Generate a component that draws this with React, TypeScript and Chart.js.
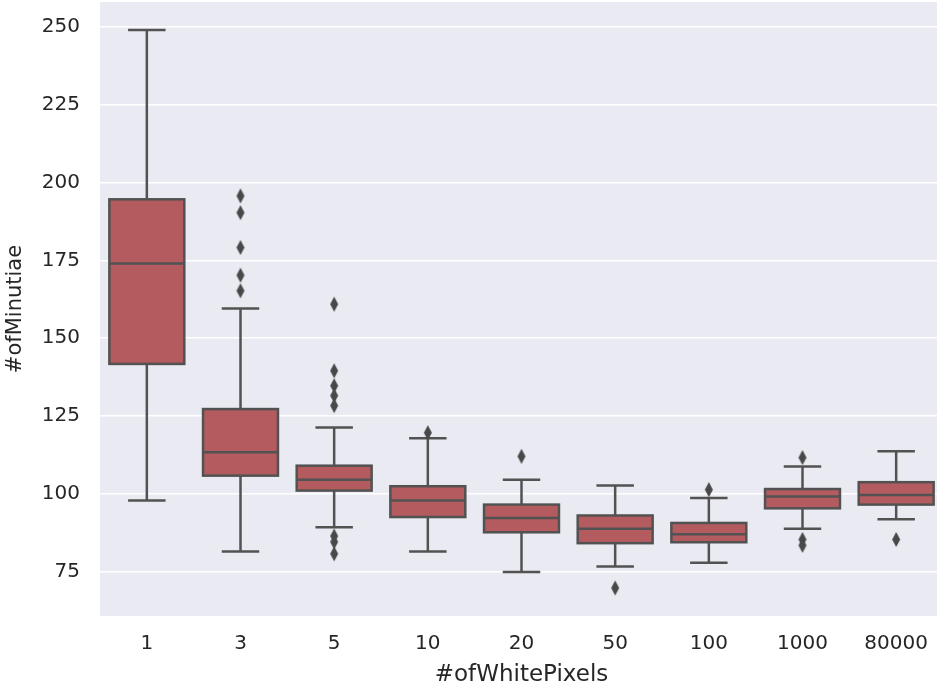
import { useEffect, useRef } from "react";
import { Chart, registerables } from "chart.js";

Chart.register(...registerables);

// Number of white pixels per group (x categories)
const categories = ["1", "3", "5", "10", "20", "50", "100", "1000", "80000"];

// Five-number summaries of #ofMinutiae for each group
const whiskerLow = [97.8, 81.4, 89.2, 81.4, 74.8, 76.6, 77.8, 88.7, 91.8];
const q1 = [141.7, 105.8, 101.0, 92.5, 87.6, 84.1, 84.4, 95.3, 96.5];
const medians = [174.0, 113.3, 104.5, 97.8, 92.2, 88.7, 87.0, 99.1, 99.6];
const q3 = [194.6, 127.2, 109.0, 102.4, 96.5, 93.0, 90.6, 101.5, 103.7];
const whiskerHigh = [249.0, 159.5, 121.3, 117.8, 104.5, 102.6, 98.6, 108.7, 113.6];

// Points beyond the whiskers: group and value
const outlierGroups = [
  "3", "3", "3", "3", "3",
  "5", "5", "5", "5", "5", "5", "5", "5",
  "10",
  "20",
  "50",
  "100",
  "1000", "1000", "1000",
  "80000",
];
const outlierValues = [
  195.7, 190.3, 179.1, 170.2, 165.2,
  160.9, 139.5, 134.7, 131.5, 128.3, 86.4, 84.5, 80.7,
  119.6,
  112.0,
  69.7,
  101.3,
  111.6, 85.3, 83.4,
  85.3,
];

const yTicks = [75, 100, 125, 150, 175, 200, 225, 250];
const yMin = 60.7;
const yMax = 258;

const BOX_FILL = "#b35b5f";
const LINE_GRAY = "#525252";
const FLIER_GRAY = "#484848";
const PANEL_BG = "#eaeaf2";
const TEXT = "#262626";
const FONT = "'DejaVu Sans', sans-serif";

// The panel runs a few pixels past the visible right edge
const VIEW_W = 937;
const CANVAS_W = 943;
const CANVAS_H = 689;

function makeDiamond(color: string): HTMLCanvasElement {
  const c = document.createElement("canvas");
  c.width = 10;
  c.height = 17;
  const g = c.getContext("2d")!;
  g.fillStyle = color;
  g.beginPath();
  g.moveTo(5, 1);
  g.lineTo(9, 8.5);
  g.lineTo(5, 16);
  g.lineTo(1, 8.5);
  g.closePath();
  g.fill();
  return c;
}

const panelBackground = {
  id: "panelBackground",
  beforeDraw(chart: any) {
    const { ctx, chartArea } = chart;
    ctx.save();
    ctx.fillStyle = PANEL_BG;
    ctx.fillRect(
      chartArea.left,
      chartArea.top,
      chartArea.right - chartArea.left,
      chartArea.bottom - chartArea.top
    );
    ctx.restore();
  },
};

// Whiskers, caps, box outline and median line drawn over each floating bar
const boxLines = {
  id: "boxLines",
  afterDatasetDraw(chart: any, args: any) {
    if (args.meta.type !== "bar") return;
    const { ctx } = chart;
    const y = chart.scales.y;
    ctx.save();
    ctx.strokeStyle = LINE_GRAY;
    ctx.lineWidth = 2.5;
    ctx.lineCap = "butt";
    const seg = (x0: number, y0: number, x1: number, y1: number) => {
      ctx.beginPath();
      ctx.moveTo(x0, y0);
      ctx.lineTo(x1, y1);
      ctx.stroke();
    };
    args.meta.data.forEach((bar: any, i: number) => {
      const { x, width } = bar.getProps(["x", "width"], true);
      const half = width / 2;
      const yLo = y.getPixelForValue(whiskerLow[i]);
      const yQ1 = y.getPixelForValue(q1[i]);
      const yMed = y.getPixelForValue(medians[i]);
      const yQ3 = y.getPixelForValue(q3[i]);
      const yHi = y.getPixelForValue(whiskerHigh[i]);
      seg(x, yQ3, x, yHi);
      seg(x, yQ1, x, yLo);
      seg(x - half / 2, yHi, x + half / 2, yHi);
      seg(x - half / 2, yLo, x + half / 2, yLo);
      ctx.strokeRect(x - half, yQ3, width, yQ1 - yQ3);
      seg(x - half, yMed, x + half, yMed);
    });
    ctx.restore();
  },
};

export default function App() {
  const canvasRef = useRef<HTMLCanvasElement | null>(null);

  useEffect(() => {
    document.body.style.margin = "0";
    const canvas = canvasRef.current;
    if (!canvas) return;
    const diamond = makeDiamond(FLIER_GRAY);

    const chart = new Chart(canvas, {
      type: "bar",
      data: {
        labels: categories,
        datasets: [
          {
            type: "bar",
            order: 2,
            data: categories.map((_, i) => [q1[i], q3[i]]) as any,
            backgroundColor: BOX_FILL,
            borderWidth: 0,
            barPercentage: 0.8,
            categoryPercentage: 1,
          },
          {
            type: "scatter",
            order: 1,
            data: outlierGroups.map((g, i) => ({ x: g, y: outlierValues[i] })) as any,
            pointStyle: diamond as any,
            pointRadius: 5,
            showLine: false,
          } as any,
        ],
      },
      options: {
        animation: false,
        responsive: false,
        devicePixelRatio: 1,
        layout: { autoPadding: false, padding: { top: 2, right: 0, bottom: 0, left: 0 } },
        plugins: {
          legend: { display: false },
          tooltip: { enabled: false },
        },
        scales: {
          x: {
            type: "category",
            offset: true,
            grid: { display: false, drawTicks: false },
            border: { display: false },
            ticks: {
              color: TEXT,
              font: { family: FONT, size: 20 },
              padding: 16,
              autoSkip: false,
              maxRotation: 0,
            },
            title: {
              display: true,
              text: "#ofWhitePixels",
              color: TEXT,
              font: { family: FONT, size: 23 },
              padding: { top: 0, bottom: 0 },
            },
            afterFit: (s: any) => {
              s.height = 73;
              s.paddingLeft = 0;
              s.paddingRight = 0;
            },
          },
          y: {
            type: "linear",
            min: yMin,
            max: yMax,
            grid: { color: "#ffffff", lineWidth: 1.5, drawTicks: false },
            border: { display: false },
            ticks: {
              color: TEXT,
              font: { family: FONT, size: 20 },
              padding: 20,
            },
            afterBuildTicks: (s: any) => {
              s.ticks = yTicks.map((v) => ({ value: v }));
            },
            title: {
              display: true,
              text: "#ofMinutiae",
              color: TEXT,
              font: { family: FONT, size: 21 },
              padding: { top: 3, bottom: 0 },
            },
            afterFit: (s: any) => {
              s.width = 100;
              s.paddingTop = 0;
              s.paddingBottom = 0;
            },
          },
        },
      },
      plugins: [panelBackground, boxLines],
    });

    return () => chart.destroy();
  }, []);

  return (
    <div style={{ width: VIEW_W, height: CANVAS_H, overflow: "hidden" }}>
      <canvas
        ref={canvasRef}
        width={CANVAS_W}
        height={CANVAS_H}
        style={{ display: "block" }}
      />
    </div>
  );
}
